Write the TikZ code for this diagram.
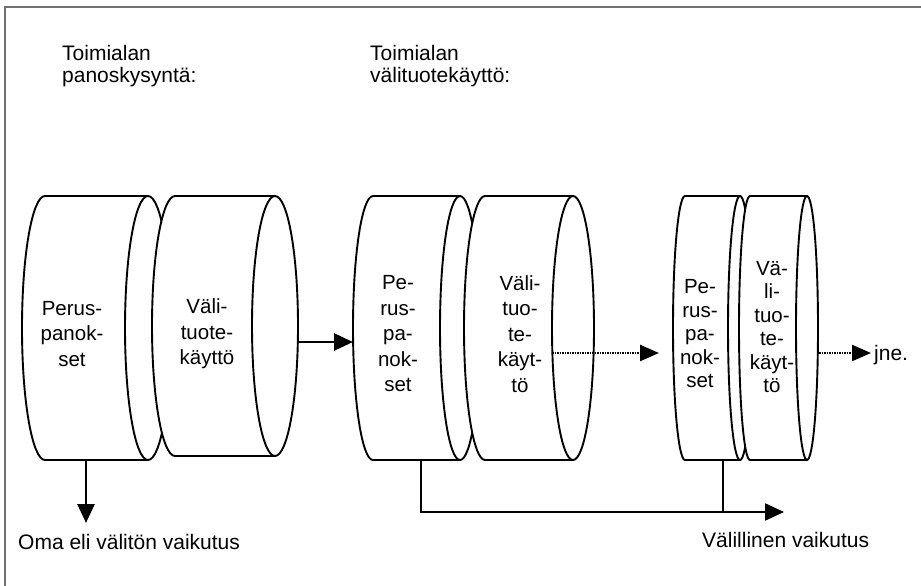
\documentclass[tikz,border=0pt]{standalone}
\usepackage{fontspec}
\setmainfont{Liberation Sans}
\usetikzlibrary{arrows.meta}
\definecolor{framegray}{HTML}{707070}
\newcommand\mycyl[6]{% name, L, R, rx, T, B
  \pgfmathsetmacro\cM{(#5+#6)/2}%
  \pgfmathsetmacro\cRy{(#6-#5)/2}%
  \filldraw[cylline] (#2,#5) -- (#3,#5) arc[start angle=-90,end angle=90,x radius=#4,y radius=\cRy] -- (#2,#6) arc[start angle=90,end angle=270,x radius=#4,y radius=\cRy] -- cycle;
  \draw[cylline,fill=none] (#3,#5) arc[start angle=270,end angle=90,x radius=#4,y radius=\cRy];
  \coordinate (#1-l) at ({#2-#4},\cM);
  \coordinate (#1-r) at ({#3+#4},\cM);
  \coordinate (#1-ri) at ({#3-#4},\cM);
}
\tikzset{
  cylline/.style={line width=1.9pt, draw=black, fill=white},
  arr/.style={line width=2.8pt, -{Triangle[length=19pt,width=17pt]}},
  darr/.style={line width=2.4pt, dash pattern=on 1.6pt off 0.9pt, -{Triangle[length=19pt,width=16pt]}},
  ln/.style={line width=1.8pt},
  lbl/.style={font=\fontsize{21}{22}\selectfont, inner sep=3pt, align=left},
  cyltxt/.style={font=\fontsize{20.5}{25.5}\selectfont, align=center, inner sep=0pt},
  cyltxts/.style={font=\fontsize{20.5}{23.5}\selectfont, align=center, inner sep=0pt}
}
\begin{document}
\begin{tikzpicture}[x=1pt,y=-1pt]
\useasboundingbox (0,0) rectangle (921,586);
\fill[white] (0,0) rectangle (921,586);
\draw[framegray, line width=2pt] (921,7) -- (5,7) -- (5,586);

\node[lbl, anchor=base west] (h1) at (59,82) {Toimialan\\panoskysyntä:};
\node[lbl, anchor=base west] (h2) at (367,82) {Toimialan\\välituotekäyttö:};

\mycyl{c1}{45}{148}{23}{196}{460}
\mycyl{c2}{175}{275}{23}{196}{456}
\mycyl{c3}{373}{460}{20}{196}{460}
\mycyl{c4}{485}{573}{21}{196}{460}
\mycyl{c5}{685}{740}{12}{196}{460}
\mycyl{c6}{750}{807}{11}{196}{460}

\node[cyltxt] (t1) at (72,334) {Perus-\\panok-\\set};
\node[cyltxt] (t2) at (207,334) {Väli-\\tuote-\\käyttö};
\node[cyltxt] (t3) at (398,334) {Pe-\\rus-\\pa-\\nok-\\set};
\node[cyltxt] (t4) at (520,334) {Väli-\\tuo-\\te-\\käyt-\\tö};
\node[cyltxts] (t5) at (700,334) {Pe-\\rus-\\pa-\\nok-\\set};
\node[cyltxts] (t6) at (772,327) {Vä-\\li-\\tuo-\\te-\\käyt-\\tö};

% main flow
\coordinate (p2out) at (298,342);
\coordinate (p3in) at (353,342);
\draw[arr] (p2out) -- (p3in);
\coordinate (p4out) at (552,353);
\coordinate (p5in) at (659,353);
\draw[darr] (p4out) -- (p5in);
\node[lbl, anchor=base west] (jne) at (871,360) {jne.};
\coordinate (p6out) at (819,353);
\coordinate (jnein) at (871,353);
\draw[darr] (p6out) -- (jnein);

% direct effect
\coordinate (c1b) at (86,460);
\coordinate (own) at (86,523);
\draw[arr] (c1b) -- (own);
\node[lbl, anchor=base west] (oma) at (15,549) {Oma eli välitön vaikutus};

% indirect effect
\coordinate (c3b) at (421,460);
\coordinate (c5b) at (723,460);
\coordinate (ind) at (784,512);
\draw[ln, line width=2.2pt, -{Triangle[length=19pt,width=17pt]}] (c3b) |- (ind);
\draw[ln] (c5b) -- (c5b |- ind);
\node[lbl, anchor=base west] (vl) at (699,547) {Välillinen vaikutus};
\end{tikzpicture}
\end{document}
